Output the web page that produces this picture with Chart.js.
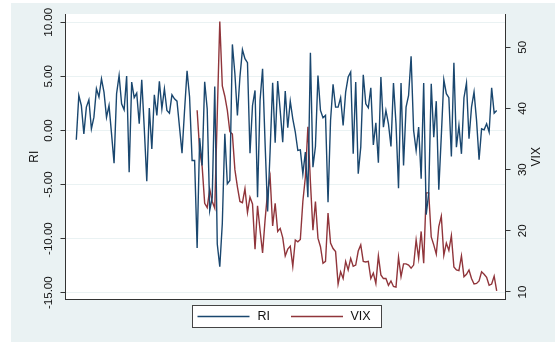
<!DOCTYPE html>
<html>
<head>
<meta charset="utf-8">
<script src="https://cdn.jsdelivr.net/npm/chart.js@4/dist/chart.umd.min.js"></script>
<style>
html, body { margin: 0; padding: 0; background: #fff; }
canvas { display: block; }
</style>
</head>
<body>
<canvas id="c" width="555" height="342"></canvas>
<script>
// ---- data ----
const SERIES_NAMES = ['RI', 'VIX'];

const RI = [
  -0.86, 3.24, 2.31, -0.31, 2.16, 2.84, 0.15, 1.23, 3.86, 3.09, 4.78, 3.55, 1.23, 2.31, -0.31, -3.02, 3.4, 5.09, 2.47, 1.91, 5.03, -3.86, 4.47, 3.03, 3.46, 0.62, 4.69,
  0.2, -4.69, 2.07, -1.7, 3.3, 1.39, 4.54, 2.0, 3.86, 1.85, 1.6, 3.3, 2.93, 2.71, 0.31, -2.1, 1.85, 5.52, 3.09, -2.78, -2.78, -10.86, -0.71, -3.24, 4.5, 2.0, -7.4, -6.2,
  4.07, -10.5, -12.6, -8.6, -0.31, -4.94, -4.63, 7.96, 5.25, 1.39, 4.94, 7.47, 6.64, 6.27, -2.1, 2.31, 3.7, -6.17, 2.78, 5.71, -1.23, -7.5, -1.85, 4.41, -1.14, 4.57, 1.85, -1.08, 3.64,
  0.25, 2.71, 1.08, -0.15, -1.85, -1.79, -4.01, -2.0, -6.17, 7.19, -3.4, -1.48, 5.09, 1.85, 1.17, 1.39, -6.64, 0.93, 4.26, 2.16, 2.16, 3.03, 0.46, 3.55, 4.94, 5.4, -2.16, 4.47,
  -4.0, -1.54, 5.15, 2.47, 2.1, 3.95, -1.33, 0.71, -2.99, 4.94, 0.31, 1.85, 0.62, -1.48, 4.38, 0.62, -5.34, 4.38, -3.24, 2.16, 3.24, 6.85, 0, -1.85, 0.31, -4.47, 4.38, -7.78, -5.8,
  4.32, -0.62, 2.71, -5.49, -0.5, 4.69, 3.4, 3.03, -2.41, 6.27, -1.54, 0.46, -2.16, 3.03, 4.38, -0.77, 2.16, 3.55, 0.93, -2.71, 0.15, 0.06, 0.62, -0.15, 3.95, 1.6, 1.85
];

// VIX is missing for the first periods of the sample
const VIX_MISSING_PERIODS = 48;
const VIX = [
  39.7, 33.2, 30.5, 24.5, 23.8, 26.8, 24.8, 23.7, 39.0, 54.2,
  43.7, 42.0, 39.7, 36.2, 35.8, 30.0, 27.2, 24.8, 24.6, 26.9,
  23.0, 25.5, 24.4, 17.0, 24.1, 20.1, 16.4, 21.8, 26.4, 28.8,
  20.8, 24.5, 19.9, 20.4, 18.9, 15.9, 17.0, 17.5, 14.2, 18.5,
  18.2, 18.6, 24.8, 28.8, 37.0, 28.0, 20.1, 24.8, 18.8, 17.4,
  14.7, 15.0, 22.9, 18.0, 17.1, 16.6, 11.3, 13.3, 12.2, 15.0,
  13.6, 15.5, 14.2, 14.4, 16.7, 17.7, 15.0, 14.9, 15.0, 12.2,
  13.1, 11.4, 15.9, 12.8, 12.2, 12.2, 11.1, 11.8, 10.9, 10.8,
  15.7, 12.5, 14.6, 14.6, 14.4, 13.9, 14.4, 18.5, 15.5, 19.9,
  14.7, 26.2, 26.2, 19.0, 17.7, 16.2, 20.7, 22.4, 16.0, 18.0,
  16.8, 19.2, 14.1, 13.6, 13.5, 15.9, 12.5, 12.9, 13.6, 12.2,
  11.3, 11.4, 11.8, 13.3, 12.9, 12.4, 11.1, 11.3, 12.6, 10.2
];

const RI_TICKS = [-15, -10, -5, 0, 5, 10];
const RI_TICK_LABELS = ['-15.00', '-10.00', '-5.00', '0.00', '5.00', '10.00'];
const VIX_TICKS = [10, 20, 30, 40, 50];
const VIX_TICK_LABELS = ['10', '20', '30', '40', '50'];

// ---- styling ----
const BG = '#EAF2F3';
const NAVY = '#1A476F';
const MAROON = '#90353B';
const AXIS = '#333333';
const TEXT = '#111111';
const FONT = "'Liberation Sans', Arial, sans-serif";

const riPoints = RI.map((v, i) => ({ x: i, y: v }));
const vixPoints = VIX.map((v, i) => ({ x: VIX_MISSING_PERIODS + i, y: v }));

const decorPlugin = {
  id: 'decor',
  beforeDraw(chart) {
    const { ctx, chartArea: a } = chart;
    ctx.save();
    ctx.fillStyle = '#ffffff';
    ctx.fillRect(0, 0, chart.width, chart.height);
    ctx.fillStyle = BG;
    ctx.fillRect(11, 3, chart.width - 11, chart.height - 3);
    ctx.fillStyle = '#ffffff';
    ctx.fillRect(a.left, a.top, a.right - a.left, a.bottom - a.top);
    ctx.restore();
  },
  afterDraw(chart) {
    const { ctx, chartArea: a } = chart;
    ctx.save();
    // right axis title, reading bottom to top
    ctx.translate(537, (a.top + a.bottom) / 2);
    ctx.rotate(-Math.PI / 2);
    ctx.fillStyle = TEXT;
    ctx.font = '12px ' + FONT;
    ctx.textAlign = 'center';
    ctx.textBaseline = 'middle';
    ctx.fillText(SERIES_NAMES[1], 0, 0);
    ctx.restore();

    // legend box
    const cx = (a.left + a.right) / 2;
    const top = 305.5, h = 22;
    const left = Math.round(cx - 94) + 0.5, w = 189;
    ctx.save();
    ctx.fillStyle = '#ffffff';
    ctx.fillRect(left, top, w, h);
    ctx.strokeStyle = '#444444';
    ctx.lineWidth = 1;
    ctx.strokeRect(left, top, w, h);
    const yMid = top + h / 2;
    const items = [
      { color: NAVY, label: chart.data.datasets[0].label, x0: cx - 88, x1: cx - 36, tx: cx - 28 },
      { color: MAROON, label: chart.data.datasets[1].label, x0: cx + 5.5, x1: cx + 57.5, tx: cx + 65 }
    ];
    ctx.font = '12.5px ' + FONT;
    ctx.textBaseline = 'middle';
    ctx.textAlign = 'left';
    items.forEach(it => {
      ctx.strokeStyle = it.color;
      ctx.lineWidth = 1.4;
      ctx.beginPath();
      ctx.moveTo(it.x0, yMid);
      ctx.lineTo(it.x1, yMid);
      ctx.stroke();
      ctx.fillStyle = TEXT;
      ctx.fillText(it.label, it.tx, yMid + 0.5);
    });
    ctx.restore();
  }
};

new Chart(document.getElementById('c'), {
  type: 'line',
  data: {
    datasets: [
      { label: SERIES_NAMES[0], data: riPoints, yAxisID: 'y', borderColor: NAVY, borderWidth: 1.4, pointRadius: 0, tension: 0, fill: false },
      { label: SERIES_NAMES[1], data: vixPoints, yAxisID: 'y1', borderColor: MAROON, borderWidth: 1.4, pointRadius: 0, tension: 0, fill: false }
    ]
  },
  options: {
    responsive: false,
    animation: false,
    devicePixelRatio: 1,
    layout: { padding: { left: 16, right: 0, top: 14, bottom: 42.5 } },
    plugins: { legend: { display: false }, tooltip: { enabled: false } },
    scales: {
      x: {
        type: 'linear',
        min: -4.29, max: 170.5,
        ticks: { display: false },
        grid: { display: false, drawTicks: false },
        border: { display: true, color: AXIS, width: 1 },
        afterFit: s => { s.height = 0; }
      },
      y: {
        position: 'left',
        min: -15.63, max: 10.77,
        afterBuildTicks: s => { s.ticks = RI_TICKS.map(v => ({ value: v })); },
        afterFit: s => { s.width = 49.5; },
        ticks: {
          minRotation: 90, maxRotation: 90, crossAlign: 'center', padding: -4.8,
          color: TEXT, font: { family: FONT, size: 11.5 },
          callback: v => RI_TICK_LABELS[RI_TICKS.indexOf(v)]
        },
        grid: { color: BG, lineWidth: 1, tickColor: AXIS, tickLength: 5, drawTicks: true },
        border: { display: true, color: AXIS, width: 1 },
        title: { display: true, text: SERIES_NAMES[0], color: TEXT, font: { family: FONT, size: 12 }, padding: { top: 11.3, bottom: 0 } }
      },
      y1: {
        position: 'right',
        min: 8.774, max: 55.44,
        afterBuildTicks: s => { s.ticks = VIX_TICKS.map(v => ({ value: v })); },
        afterFit: s => { s.width = 49.5; },
        ticks: {
          minRotation: 90, maxRotation: 90, crossAlign: 'center', padding: 6.1,
          color: TEXT, font: { family: FONT, size: 11.5 },
          callback: v => VIX_TICK_LABELS[VIX_TICKS.indexOf(v)]
        },
        grid: { drawOnChartArea: false, tickColor: AXIS, tickLength: 5, drawTicks: true },
        border: { display: true, color: AXIS, width: 1 }
      }
    }
  },
  plugins: [decorPlugin]
});
</script>
</body>
</html>
